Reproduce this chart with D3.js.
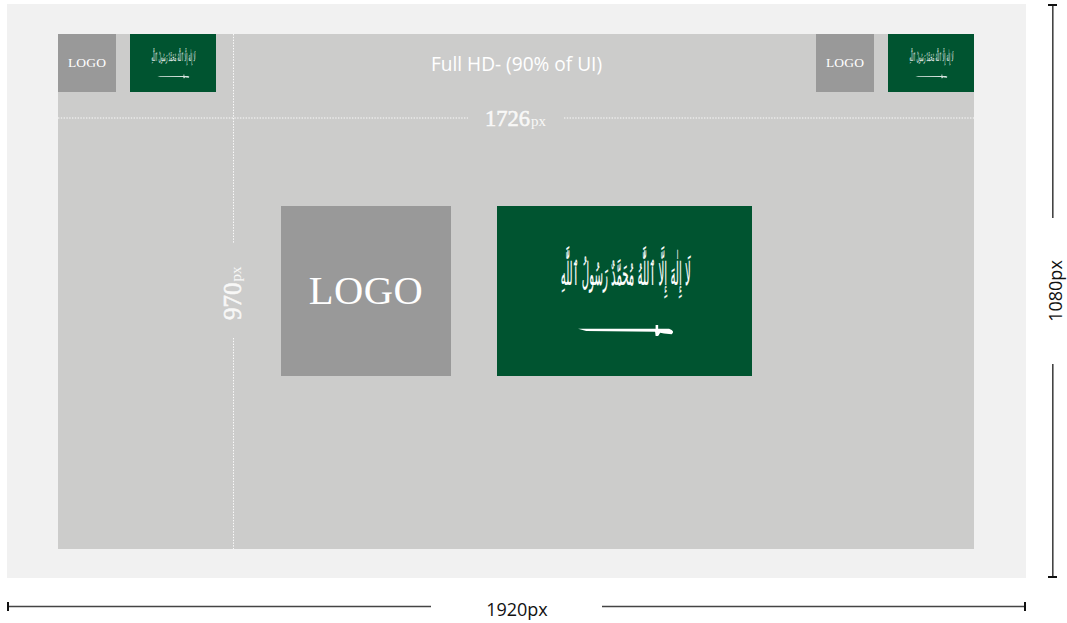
<!DOCTYPE html>
<html><head><meta charset="utf-8">
<script src="https://cdn.jsdelivr.net/npm/d3@7"></script>
<style>html,body{margin:0;padding:0;background:#fff}svg{display:block}</style>
</head><body><svg id="c" width="1067" height="623"></svg>
<script>
const screenSize = [1920, 1080];
const uiSize = [1726, 970];
const title = "Full HD- (90% of UI)";
const unit = "px";
const logoText = "LOGO";
const shahada = "لَا إِلٰهَ إِلَّا ٱللَّٰهُ مُحَمَّدٌ رَسُولُ ٱللَّٰهِ";
const colors = {page:"#f1f1f1", ui:"#cccccb", logo:"#999999", flag:"#005430", ink:"#111111"};

const svg = d3.select("#c");
const sx = d3.scaleLinear().domain([0, screenSize[0]]).range([7, 1026]);
const sy = d3.scaleLinear().domain([0, screenSize[1]]).range([4, 578]);
const ux0 = (screenSize[0]-uiSize[0])/2;

function rect(x,y,w,h,fill){return svg.append("rect").attr("x",x).attr("y",y).attr("width",w).attr("height",h).attr("fill",fill).attr("shape-rendering","crispEdges");}
rect(sx(0),sy(0),sx(screenSize[0])-sx(0),sy(screenSize[1])-sy(0),colors.page);
const L=Math.floor(sx(ux0)), R=Math.floor(sx(ux0+uiSize[0])), T=34, B=549;
rect(L,T,R-L,B-T,colors.ui);

function logo(x,y,s,fs){
  rect(x,y,s,s,colors.logo);
  svg.append("text").attr("x",x+s/2).attr("y",y+s/2+fs*0.31).attr("text-anchor","middle")
    .attr("font-family","Liberation Serif").attr("font-size",fs).attr("fill","#fff")
    .attr("letter-spacing",fs*0.012).text(logoText);
}
function flag(x,y,w,h){
  rect(x,y,w,h,colors.flag);
  const fx=d3.scaleLinear().domain([0,1]).range([x,x+w]), fy=d3.scaleLinear().domain([0,1]).range([y,y+h]);
  const t=svg.append("text").attr("font-family","DejaVu Sans").attr("font-size",40)
    .attr("fill","#fff").attr("stroke","#fff").attr("stroke-width",0.3)
    .attr("text-rendering","geometricPrecision")
    .attr("direction","rtl").attr("text-anchor","middle").text(shahada);
  const bb=t.node().getBBox();
  const bx=[0.25,0.76], by=[0.235,0.545];
  const kx=(fx(bx[1])-fx(bx[0]))/bb.width, ky=(fy(by[1])-fy(by[0]))/bb.height;
  t.attr("transform",`translate(${fx(bx[0])-bb.x*kx},${fy(by[0])-bb.y*ky}) scale(${kx},${ky})`);
  if(w<100) t.attr("opacity",0.9);
  const p=d3.path();
  p.moveTo(fx(0.318),fy(0.722));p.lineTo(fx(0.622),fy(0.722));p.lineTo(fx(0.622),fy(0.70));p.lineTo(fx(0.632),fy(0.70));
  p.lineTo(fx(0.632),fy(0.722));p.lineTo(fx(0.675),fy(0.722));p.quadraticCurveTo(fx(0.70),fy(0.735),fx(0.685),fy(0.755));
  p.lineTo(fx(0.655),fy(0.75));p.lineTo(fx(0.64),fy(0.745));p.lineTo(fx(0.632),fy(0.765));p.lineTo(fx(0.622),fy(0.765));p.lineTo(fx(0.62),fy(0.74));
  p.lineTo(fx(0.35),fy(0.735));p.closePath();
  svg.append("path").attr("d",p.toString()).attr("fill","#fff").attr("opacity",w<100?0.85:1);
}
logo(58,34,58,13.5); flag(130,34,86,58);
logo(816,34,58,13.5); flag(888,34,86,58);
logo(281,206,170,40.5); flag(497,206,255,170);

svg.append("text").attr("x",516.5).attr("y",70.5).attr("text-anchor","middle").attr("font-family","Open Sans")
  .attr("font-size",19.1).attr("fill","#fff").text(title);

function dots(x1,y1,x2,y2){svg.append("line").attr("x1",x1).attr("y1",y1).attr("x2",x2).attr("y2",y2)
  .attr("stroke","#fff").attr("stroke-opacity",.9).attr("stroke-width",1).attr("stroke-dasharray","1.4 1.4");}
dots(L,118,468,118); dots(564,118,R,118);
dots(233.5,T,233.5,243); dots(233.5,338,233.5,B);

function measure(sel,value,fs,fsU){
  sel.attr("font-family","Liberation Serif").attr("fill","#f8f8f7");
  sel.append("tspan").attr("font-size",fs).attr("stroke","#f8f8f7").attr("stroke-width",0.6).text(value);
  sel.append("tspan").attr("font-size",fsU).attr("dx",1).text(unit);
}
measure(svg.append("text").attr("x",485).attr("y",126),uiSize[0],22.5,15);
measure(svg.append("text").attr("transform","translate(241,320) rotate(-90)"),uiSize[1],25,15);

function dim(x1,y1,x2,y2){svg.append("line").attr("x1",x1).attr("y1",y1).attr("x2",x2).attr("y2",y2).attr("stroke","#444").attr("stroke-width",1.6);}
function tick(x1,y1,x2,y2){svg.append("line").attr("x1",x1).attr("y1",y1).attr("x2",x2).attr("y2",y2).attr("stroke",colors.ink).attr("stroke-width",2);}
const by=606.5, rx=1052.8;
dim(8,by,431,by); dim(602,by,1025,by); tick(8,602,8,611); tick(1025,602,1025,611);
dim(rx,5,rx,218); dim(rx,364,rx,577); tick(1048,5,1057,5); tick(1048,577,1057,577);
svg.append("text").attr("x",517).attr("y",616).attr("text-anchor","middle").attr("font-family","Open Sans")
  .attr("font-size",18).attr("fill",colors.ink).text(screenSize[0]+unit);
svg.append("text").attr("transform","translate(1062,291) rotate(-90)").attr("text-anchor","middle").attr("font-family","Open Sans")
  .attr("font-size",18).attr("fill",colors.ink).text(screenSize[1]+unit);
</script></body></html>
